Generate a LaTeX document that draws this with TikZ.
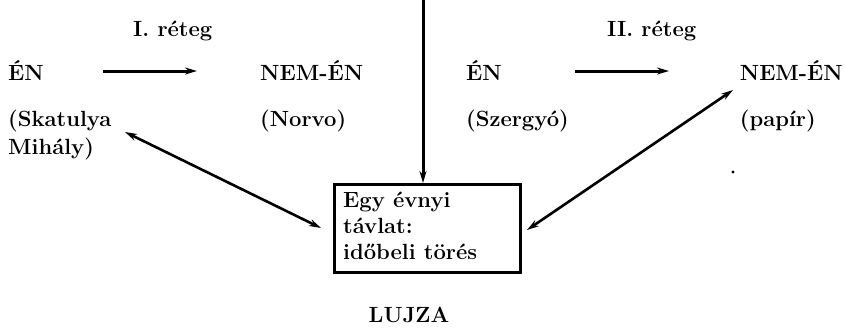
\documentclass[tikz,border=0pt]{standalone}
\usepackage{fontspec}
\usetikzlibrary{arrows.meta}
\tikzset{
  lbl/.style={anchor=base west, inner sep=0pt, font=\fontsize{22}{26}\selectfont\bfseries},
  conn/.style={line width=3pt, -{Stealth[length=12pt,width=7pt]}},
  both/.style={line width=2.6pt, {Stealth[length=12pt,width=7pt]}-{Stealth[length=12pt,width=7pt]}},
  frame/.style={draw, line width=3pt, inner sep=0pt}
}
\begin{document}
\begin{tikzpicture}[x=1pt,y=-1pt]
\useasboundingbox (0,0) rectangle (845,327);
% layer captions
\node[lbl] (r1) at (133,36) {I. réteg};
\node[lbl] (r2) at (607,36) {II. réteg};
% first layer
\node[lbl] (en1) at (8,80) {ÉN};
\node[lbl] (nem1) at (260,80) {NEM-ÉN};
\node[lbl] (sk) at (8,126) {(Skatulya};
\node[lbl] (mi) at (8,154) {Mihály)};
\node[lbl] (no) at (260,126) {(Norvo)};
% second layer
\node[lbl] (en2) at (466,80) {ÉN};
\node[lbl, anchor=base east] (nem2) at (843,80) {NEM-ÉN};
\node[lbl] (pa) at (nem2.west |- 0,126) {(papír)};
\node[lbl] (sz) at (466,126) {(Szergyó)};
% central box
\node[frame, minimum width=186pt, minimum height=88pt, anchor=north west] (box) at (333,183) {};
\node[lbl] (b1) at (343,207) {Egy évnyi};
\node[lbl] (b2) at (343,233) {távlat:};
\node[lbl] (b3) at (343,259) {időbeli törés};
\node[lbl, anchor=base] (lu) at (409,322) {LUJZA};
% small mark
\fill (733,172) circle (1.6pt);
% connectors
\coordinate (a1s) at (103,71);
\coordinate (a1e) at (197,71);
\coordinate (a2s) at (575,71);
\coordinate (a2e) at (669,71);
\coordinate (top) at (423,0);
\draw[conn] (a1s) -- (a1e);
\draw[conn] (a2s) -- (a2e);
\draw[conn] (top) -- (box.north -| top);
\draw[both] (125,132) -- (321,228);
\draw[both] (733,90) -- (527,230);
\end{tikzpicture}
\end{document}
